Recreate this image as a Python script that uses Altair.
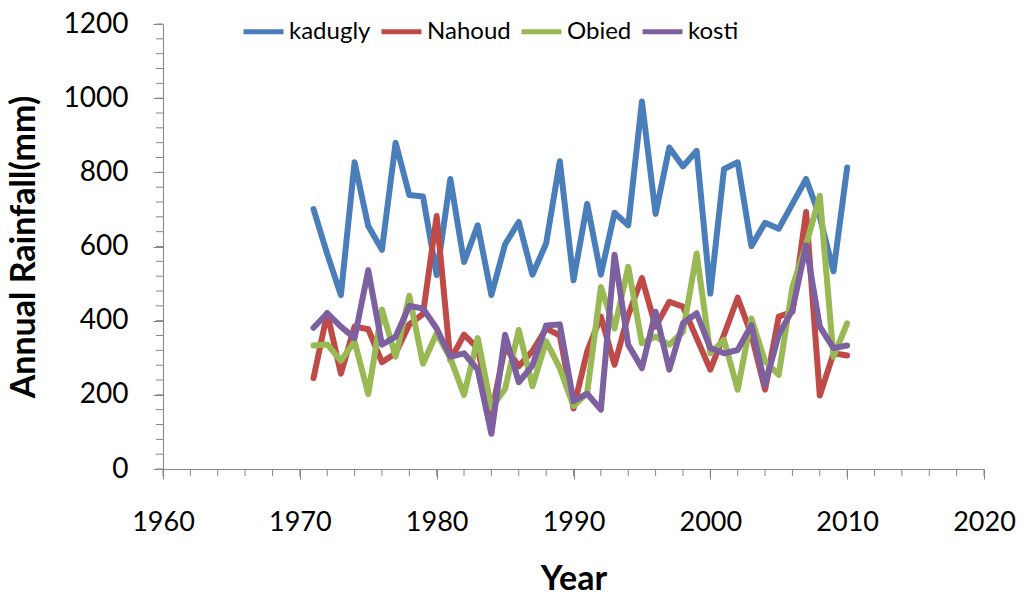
import altair as alt
import pandas as pd

years = list(range(1971, 2011))

kadugly = [701, 580, 469, 827, 655, 591, 880, 739, 735, 523,
           782, 558, 657, 469, 606, 666, 524, 608, 830, 509,
           715, 524, 691, 657, 991, 688, 867, 816, 858, 473,
           809, 827, 601, 664, 648, 715, 782, 680, 533, 813]
nahoud = [245, 420, 257, 384, 377, 288, 312, 390, 418, 682,
          294, 362, 326, 148, 330, 277, 318, 379, 360, 163,
          317, 411, 281, 415, 515, 384, 451, 438, 353, 268,
          362, 462, 362, 214, 411, 424, 693, 198, 312, 306]
obied = [333, 336, 292, 344, 202, 430, 303, 467, 284, 366,
         299, 200, 353, 165, 216, 375, 223, 344, 272, 170,
         205, 491, 379, 545, 339, 357, 335, 370, 581, 312,
         348, 214, 406, 290, 254, 491, 605, 737, 303, 393]
kosti = [381, 420, 384, 353, 536, 335, 357, 440, 433, 379,
         303, 312, 268, 95, 362, 234, 279, 387, 390, 183,
         203, 160, 578, 335, 272, 424, 268, 393, 420, 326,
         312, 321, 388, 227, 362, 429, 603, 384, 326, 333]

stations = ["kadugly", "Nahoud", "Obied", "kosti"]
colors = ["#4A7EBB", "#BE4B48", "#98B954", "#7D60A0"]

x_ticks = [1960, 1970, 1980, 1990, 2000, 2010, 2020]
x_minor = list(range(1960, 2021, 2))
y_ticks = [0, 200, 400, 600, 800, 1000, 1200]
y_minor = list(range(0, 1201, 40))

rows = []
for name, vals in zip(stations, [kadugly, nahoud, obied, kosti]):
    for yr, v in zip(years, vals):
        rows.append({"Year": yr, "Station": name, "Rainfall": v})
df = pd.DataFrame(rows)

FONT = "Lato"
GRAY = "#868686"

xscale = alt.Scale(domain=[1960, 2020], nice=False, zero=False)
yscale = alt.Scale(domain=[0, 1200], nice=False)

xaxis = alt.Axis(values=x_ticks, format="d", tickSize=10, labelPadding=30,
                 labelFontSize=27,
                 labelFlush=False, labelOverlap=False, grid=False,
                 title="Year", titlePadding=27)
yaxis = alt.Axis(values=y_ticks, format="d", tickSize=10, labelPadding=25, grid=False,
                 labelFontSize=28,
                 labelOverlap=False, title="Annual Rainfall(mm)", titlePadding=22)

lines = alt.Chart(df).mark_line(strokeWidth=6, strokeJoin="round", strokeCap="round").encode(
    x=alt.X("Year:Q", scale=xscale, axis=xaxis),
    y=alt.Y("Rainfall:Q", scale=yscale, axis=yaxis),
    color=alt.Color("Station:N", sort=stations,
                    scale=alt.Scale(domain=stations, range=colors),
                    legend=alt.Legend(orient="none", legendX=78, legendY=-15,
                                      direction="horizontal", columns=4, title=None,
                                      symbolType="stroke", symbolSize=1600,
                                      symbolStrokeWidth=5, labelOffset=3,
                                      columnPadding=0, padding=0,
                                      labelFont=FONT, labelFontSize=24,
                                      labelColor="black")),
    order=alt.Order("Year:Q"),
)

xminor = alt.Chart(pd.DataFrame({"t": x_minor})).mark_rule(color=GRAY, strokeWidth=1).encode(
    x=alt.X("t:Q", scale=xscale, axis=xaxis),
    y=alt.value(445), y2=alt.value(452),
)
yminor = alt.Chart(pd.DataFrame({"m": y_minor})).mark_rule(color=GRAY, strokeWidth=1).encode(
    y=alt.Y("m:Q", scale=yscale, axis=yaxis),
    x=alt.value(-7), x2=alt.value(0),
)

chart = alt.layer(lines, xminor, yminor).properties(
    width=821, height=445,
    autosize=alt.AutoSizeParams(type="none"),
    padding={"left": 155, "top": 16, "right": 32, "bottom": 122},
).configure_view(stroke=None).configure_axis(
    domainColor=GRAY, tickColor=GRAY, domainWidth=1, tickWidth=1,
    labelFont=FONT, labelColor="black",
    titleFont=FONT, titleFontSize=34, titleFontWeight="bold", titleColor="black",
)

chart.save("out.html", embed_options={"renderer": "svg", "actions": False})
